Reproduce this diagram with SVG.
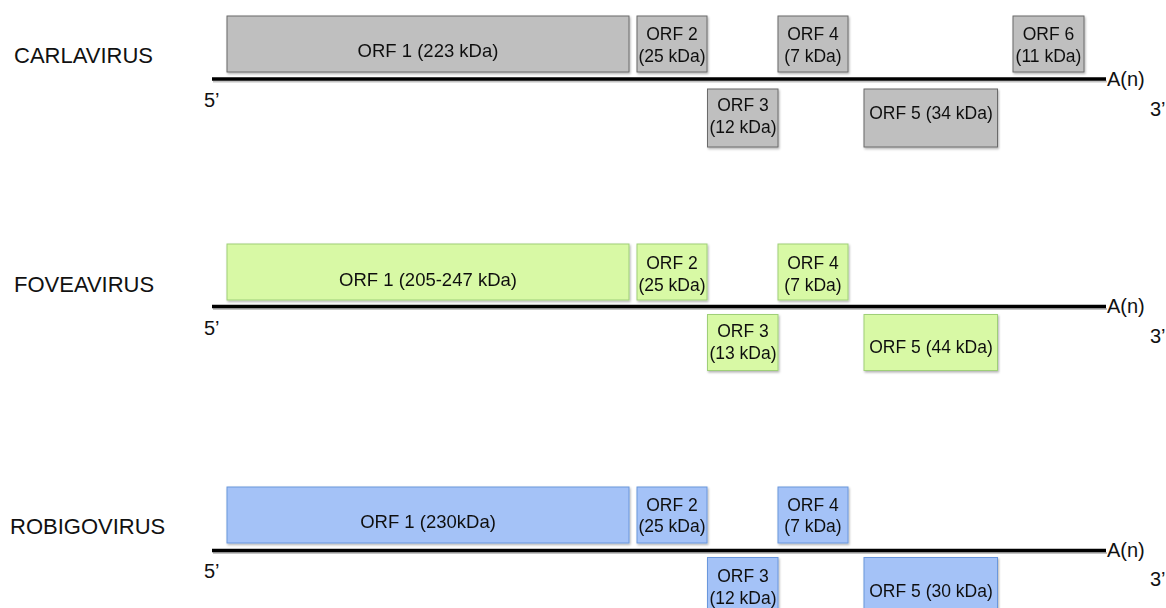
<svg xmlns="http://www.w3.org/2000/svg" width="1166" height="608" viewBox="0 0 1166 608">
<style>
  text { font-family: "Liberation Sans", Arial, sans-serif; fill: #111; }
  .virus { font-size: 22px; }
  .end { font-size: 20px; }
  .orf { font-size: 17.5px; text-anchor: middle; }
  .orf1 { font-size: 18.5px; text-anchor: middle; }
  .carla { fill: #bfbfbf; stroke: #6b6b6b; stroke-width: 1; }
  .fovea { fill: #d8f9a5; stroke: #9fcf78; stroke-width: 1; }
  .robigo { fill: #a4c2f7; stroke: #6b97dc; stroke-width: 1; }
  .genome { stroke: #000; stroke-width: 3.5; fill: none; }
  .genome-shadow { stroke: #9a9a9a; stroke-width: 2; fill: none; opacity: 0.6; }
</style>
<defs>
  <filter id="shadow" x="-10%" y="-10%" width="130%" height="130%">
    <feDropShadow dx="1" dy="1.5" stdDeviation="1" flood-color="#000" flood-opacity="0.3"/>
  </filter>
</defs>
<rect width="1166" height="608" fill="#fff"/>

<g id="connectors">
  <line class="genome-shadow" x1="213" y1="81.5" x2="1107" y2="81.5"/>
  <line class="genome" x1="212" y1="79" x2="1106" y2="79"/>
  <line class="genome-shadow" x1="213" y1="309" x2="1107" y2="309"/>
  <line class="genome" x1="212" y1="306.5" x2="1106" y2="306.5"/>
  <line class="genome-shadow" x1="213" y1="553" x2="1107" y2="553"/>
  <line class="genome" x1="212" y1="550.5" x2="1106" y2="550.5"/>
</g>

<!-- CARLAVIRUS -->
<g id="carla-label">
  <text class="virus" x="14" y="63">CARLAVIRUS</text>
  <text class="end" x="204" y="107">5’</text>
  <text class="end" x="1107" y="86">A(n)</text>
  <text class="end" x="1150" y="116">3’</text>
</g>
<g id="carla-orf1" filter="url(#shadow)">
  <rect class="carla" x="227" y="16" width="402" height="56"/>
  <text class="orf1" x="428" y="57">ORF 1 (223 kDa)</text>
</g>
<g id="carla-orf2" filter="url(#shadow)">
  <rect class="carla" x="637" y="16" width="70" height="56"/>
  <text class="orf" x="672" y="40">ORF 2</text>
  <text class="orf" x="672" y="62">(25 kDa)</text>
</g>
<g id="carla-orf3" filter="url(#shadow)">
  <rect class="carla" x="707.5" y="89" width="70.5" height="58"/>
  <text class="orf" x="743" y="111">ORF 3</text>
  <text class="orf" x="743" y="133">(12 kDa)</text>
</g>
<g id="carla-orf4" filter="url(#shadow)">
  <rect class="carla" x="778" y="16" width="70" height="56"/>
  <text class="orf" x="813" y="40">ORF 4</text>
  <text class="orf" x="813" y="62">(7 kDa)</text>
</g>
<g id="carla-orf5" filter="url(#shadow)">
  <rect class="carla" x="864" y="89" width="133.5" height="58"/>
  <text class="orf" x="931" y="119">ORF 5 (34 kDa)</text>
</g>
<g id="carla-orf6" filter="url(#shadow)">
  <rect class="carla" x="1013" y="16" width="71" height="56"/>
  <text class="orf" x="1048.5" y="40">ORF 6</text>
  <text class="orf" x="1048.5" y="62">(11 kDa)</text>
</g>

<!-- FOVEAVIRUS -->
<g id="fovea-label">
  <text class="virus" x="14" y="292">FOVEAVIRUS</text>
  <text class="end" x="204" y="335">5’</text>
  <text class="end" x="1107" y="313">A(n)</text>
  <text class="end" x="1150" y="343">3’</text>
</g>
<g id="fovea-orf1" filter="url(#shadow)">
  <rect class="fovea" x="227" y="244" width="402" height="56"/>
  <text class="orf1" x="428" y="286">ORF 1 (205-247 kDa)</text>
</g>
<g id="fovea-orf2" filter="url(#shadow)">
  <rect class="fovea" x="637" y="244" width="70" height="56"/>
  <text class="orf" x="672" y="269">ORF 2</text>
  <text class="orf" x="672" y="291">(25 kDa)</text>
</g>
<g id="fovea-orf3" filter="url(#shadow)">
  <rect class="fovea" x="707.5" y="314.5" width="70.5" height="56"/>
  <text class="orf" x="743" y="337">ORF 3</text>
  <text class="orf" x="743" y="359">(13 kDa)</text>
</g>
<g id="fovea-orf4" filter="url(#shadow)">
  <rect class="fovea" x="778" y="244" width="70" height="56"/>
  <text class="orf" x="813" y="269">ORF 4</text>
  <text class="orf" x="813" y="291">(7 kDa)</text>
</g>
<g id="fovea-orf5" filter="url(#shadow)">
  <rect class="fovea" x="864" y="314.5" width="133.5" height="56"/>
  <text class="orf" x="931" y="353">ORF 5 (44 kDa)</text>
</g>

<!-- ROBIGOVIRUS -->
<g id="robigo-label">
  <text class="virus" x="10" y="534">ROBIGOVIRUS</text>
  <text class="end" x="204" y="578">5’</text>
  <text class="end" x="1107" y="557">A(n)</text>
  <text class="end" x="1150" y="586">3’</text>
</g>
<g id="robigo-orf1" filter="url(#shadow)">
  <rect class="robigo" x="227" y="487" width="402" height="56"/>
  <text class="orf1" x="428" y="528">ORF 1 (230kDa)</text>
</g>
<g id="robigo-orf2" filter="url(#shadow)">
  <rect class="robigo" x="637" y="487" width="70" height="56"/>
  <text class="orf" x="672" y="511">ORF 2</text>
  <text class="orf" x="672" y="532">(25 kDa)</text>
</g>
<g id="robigo-orf3" filter="url(#shadow)">
  <rect class="robigo" x="707.5" y="557.5" width="70.5" height="66"/>
  <text class="orf" x="743" y="582">ORF 3</text>
  <text class="orf" x="743" y="604">(12 kDa)</text>
</g>
<g id="robigo-orf4" filter="url(#shadow)">
  <rect class="robigo" x="778" y="487" width="70" height="56"/>
  <text class="orf" x="813" y="511">ORF 4</text>
  <text class="orf" x="813" y="532">(7 kDa)</text>
</g>
<g id="robigo-orf5" filter="url(#shadow)">
  <rect class="robigo" x="864" y="557.5" width="133.5" height="66"/>
  <text class="orf" x="931" y="597">ORF 5 (30 kDa)</text>
</g>
</svg>
